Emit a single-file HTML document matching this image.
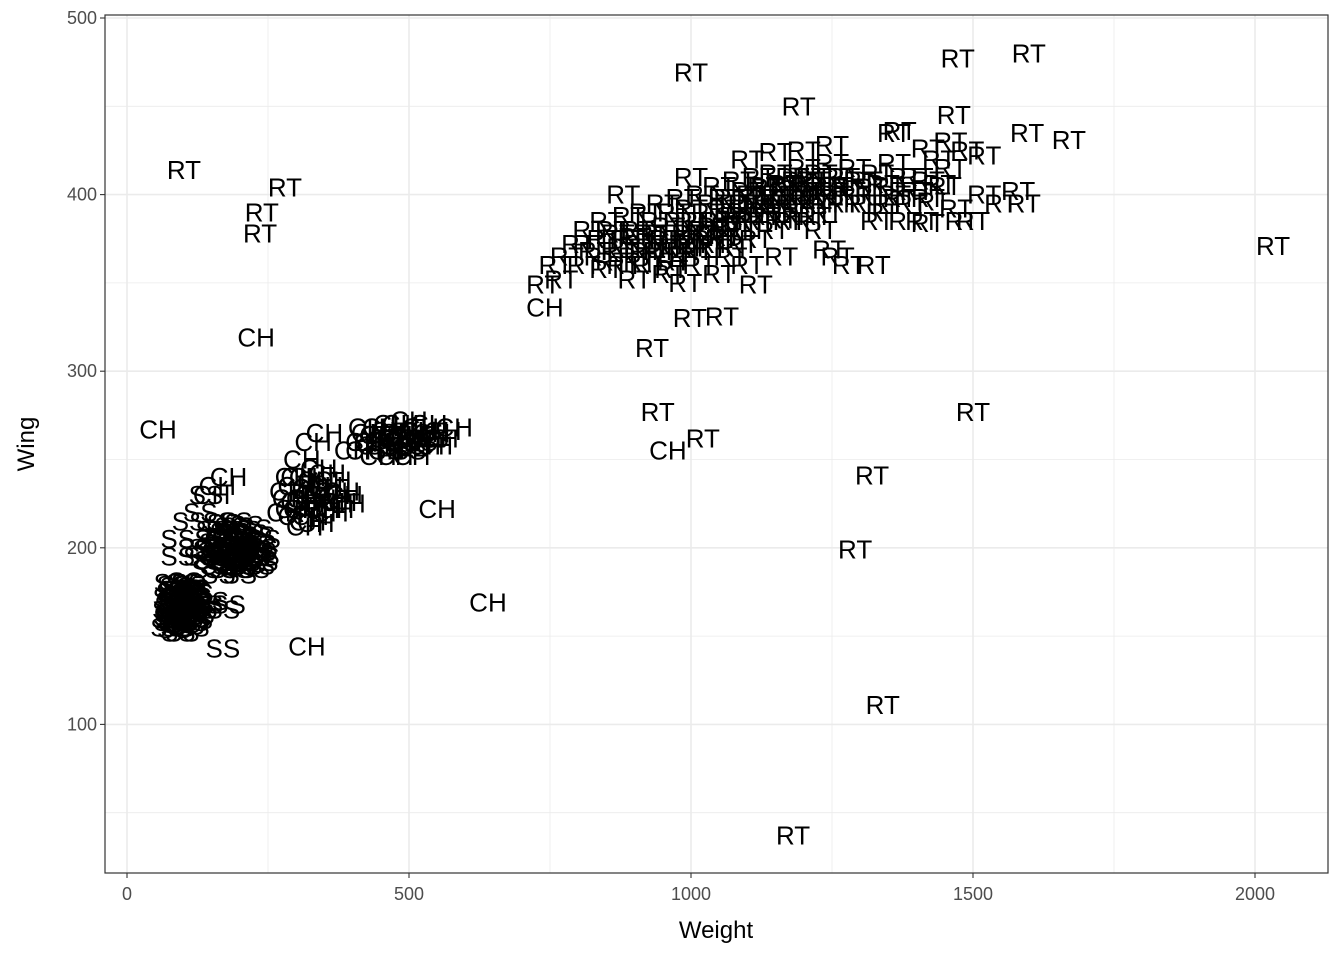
<!DOCTYPE html>
<html><head><meta charset="utf-8"><style>
body{margin:0;background:#fff}
svg{display:block;font-family:"Liberation Sans",sans-serif}
</style></head><body>
<svg id="chart" width="1344" height="960"></svg>
<script>
const rtWeight=[101,280,239,236,1000,1473,1599,1191,1466,1596,1670,2032,1500,1321,1291,1340,1181,941,931,1021,738,998,1055,1115,1245,1324,
780,800,810,820,830,845,850,860,870,880,890,900,905,910,920,925,930,940,945,950,955,960,965,970,975,980,985,990,995,1000,1005,1010,1015,1020,1025,1030,1035,1040,1045,1050,1055,1060,1065,1070,1075,1080,1085,1090,1095,1100,1105,1110,1115,1120,1125,1130,1135,1140,1145,1150,1155,1160,1165,1170,1175,1180,1185,1190,1200,1205,1210,1215,1220,1230,1235,1240,1250,1255,1260,1270,1280,1290,1300,1310,1320,1330,1340,1350,1360,1370,1380,1390,1400,1410,1420,1430,1440,1450,1460,1470,1480,1500,1520,1550,1580,1590,1330,1380,1420,1230,1160,1100,1050,990,960,900,850,770,760,1260,1280,1360,1370,1420,1460,1490,1520,1100,1150,1200,1250,1000,880,
820,840,860,880,900,920,940,960,980,1000,1020,1040,1060,1080,1100,1120,1140,1160,1180,1200,1220,1240,1260,1280,1300,1320,1340,1360,1380,1400,1420,1440,1060,1080,1110,1130,1150,1170,1190,1210,1230,1250,1270,1290,1310,1350,1000,1030,1070,1090,1120,1150,1190,1210,1240,870,890,910,930,950,970,990,1010,1040,1070,1090,1200,1220];
const rtWing=[414,404,390,378,469,477,480,450,445,435,431,371,277,241,199,111,37,277,313,262,349,330,331,349,369,360,
365,372,360,380,368,375,385,362,378,370,388,365,380,372,390,360,378,385,368,395,375,382,358,390,370,385,398,365,378,392,372,385,360,400,380,390,370,395,385,405,375,392,382,398,370,388,408,380,395,402,385,392,375,410,398,388,404,395,380,412,400,390,406,395,385,410,400,392,415,402,395,408,388,412,400,395,418,405,398,410,402,415,395,408,400,412,390,405,418,398,410,395,402,385,408,396,420,405,415,392,385,385,400,395,402,395,385,385,384,380,365,360,355,350,355,352,358,352,360,365,360,435,436,426,430,425,422,420,424,425,428,410,400,
372,365,380,360,376,368,378,372,375,370,378,382,376,380,388,385,392,386,395,398,402,405,410,404,408,404,406,400,402,410,398,406,398,395,400,405,398,402,408,410,405,400,395,400,395,395,385,375,386,388,395,390,388,385,390,368,375,362,370,365,362,375,368,372,365,372,405,395];
const ssWeight=[80,85,90,95,100,105,110,115,120,75,88,98,108,92,102,112,82,118,96,106,86,124,130,140,150,170,180,72,78,114,
130,140,150,160,170,175,180,185,190,195,200,205,210,215,220,225,230,235,145,165,155,185,200,120,90,90,110,130,140,200,240,460,480,500,520,540,170,
78,82,87,93,97,103,107,113,117,122,76,84,91,99,104,109,116,121,79,89,94,101,111,119,83,87,95,105,113,123,77,81,91,99,109,117,125,85,93,103,
150,158,163,168,173,178,183,188,193,198,203,208,213,218,223,228,233,238,152,162,172,182,192,202,212,222,232,242,157,167,177,187,197,207,217,227,147,237];
const ssWing=[160,170,155,165,175,160,168,158,172,165,178,152,180,162,170,164,175,160,158,174,166,168,165,168,170,165,168,155,180,176,
195,200,205,190,210,198,205,192,200,212,196,204,190,200,208,195,202,198,188,215,198,212,185,200,205,195,215,220,230,190,195,255,258,255,260,262,143,
158,163,172,176,168,163,156,171,166,159,172,154,167,180,177,162,155,175,168,160,173,157,179,169,179,157,161,166,160,174,161,170,152,163,171,177,162,176,158,181,
193,203,198,188,206,195,201,209,192,205,199,210,194,203,188,199,207,192,210,185,214,190,215,193,213,198,190,205,196,204,209,197,188,202,191,211,199,200];
const chWeight=[229,55,319,640,550,959,741,280,290,300,310,320,330,340,350,360,370,380,300,320,340,310,330,360,390,150,160,180,
420,430,440,450,460,470,480,490,500,510,520,530,540,560,580,400,350,420,460,
285,295,305,315,325,335,345,355,365,375,305,325,345,365,385,295,315,335,
425,435,445,455,465,475,485,495,505,515,525,535,445,475,505,545,555];
const chWing=[319,267,144,169,222,255,336,220,228,235,222,240,230,225,235,228,222,232,218,215,245,250,260,220,225,230,235,240,
260,265,258,268,262,270,265,260,272,262,268,258,265,266,268,255,265,255,255,
232,222,240,228,218,238,230,242,232,226,226,234,222,238,230,240,212,214,
268,260,264,258,266,262,270,264,258,266,262,270,252,252,252,258,262];
const xTicks=[0,500,1000,1500,2000];
const yTicks=[100,200,300,400,500];

const NS="http://www.w3.org/2000/svg";
const svg=document.getElementById('chart');
const L=105,R=1328,T=15,B=873;
const x=v=>127+v*0.564;
const y=v=>18+(500-v)*1.766;
function mk(tag,attrs,parent){const e=document.createElementNS(NS,tag);for(const k in attrs)e.setAttribute(k,attrs[k]);(parent||svg).appendChild(e);return e;}
const grid=mk('g',{});


for(let v=250;v<=2000;v+=500){mk('line',{x1:x(v),x2:x(v),y1:T,y2:B,stroke:'#ebebeb','stroke-width':0.8},grid);}
for(let v=50;v<=450;v+=100){mk('line',{x1:L,x2:R,y1:y(v),y2:y(v),stroke:'#ebebeb','stroke-width':0.8},grid);}
xTicks.forEach(v=>mk('line',{x1:x(v),x2:x(v),y1:T,y2:B,stroke:'#ebebeb','stroke-width':1.6},grid));
yTicks.forEach(v=>mk('line',{x1:L,x2:R,y1:y(v),y2:y(v),stroke:'#ebebeb','stroke-width':1.6},grid));
const pts=mk('g',{'font-size':26,'text-anchor':'middle','dominant-baseline':'central',fill:'#000'});


function draw(ws,gs,lab){ws.forEach((w,i)=>{const t=mk('text',{x:x(w),y:y(gs[i])},pts);t.textContent=lab;

});}
draw(ssWeight,ssWing,'SS');draw(chWeight,chWing,'CH');draw(rtWeight,rtWing,'RT');
const border=mk('rect',{x:L,y:T,width:R-L,height:B-T,fill:'none',stroke:'#333','stroke-width':1.2});


xTicks.forEach(v=>{mk('line',{x1:x(v),x2:x(v),y1:B,y2:B+5,stroke:'#333','stroke-width':1.1});
const t=mk('text',{x:x(v),y:B+27,'font-size':18,fill:'#4d4d4d','text-anchor':'middle'});t.textContent=v;

});
yTicks.forEach(v=>{mk('line',{x1:L-5,x2:L,y1:y(v),y2:y(v),stroke:'#333','stroke-width':1.1});
const t=mk('text',{x:L-8,y:y(v)+6,'font-size':18,fill:'#4d4d4d','text-anchor':'end'});t.textContent=v;

});
const xt=mk('text',{x:716,y:938,'font-size':24,'text-anchor':'middle'});xt.textContent='Weight';


const yt=mk('text',{x:34,y:444,'font-size':24,'text-anchor':'middle',transform:'rotate(-90 34 444)'});yt.textContent='Wing';


</script>
</body></html>
